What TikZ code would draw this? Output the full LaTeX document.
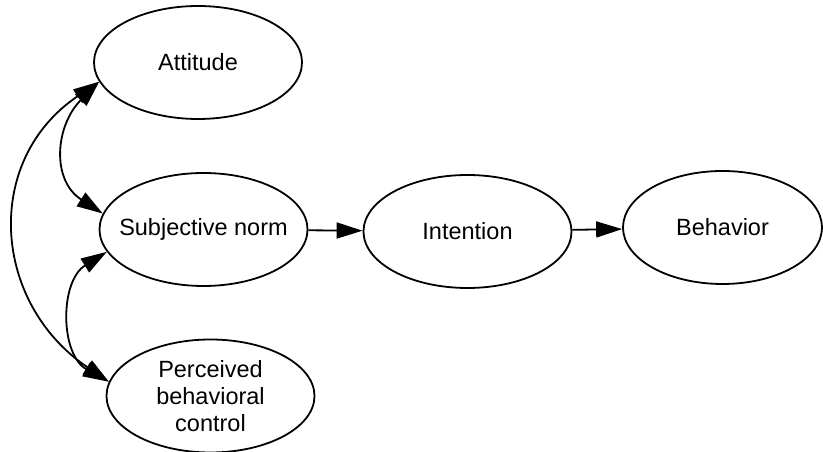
\documentclass[tikz,border=0pt]{standalone}
\usepackage{fontspec}
\setmainfont{Liberation Sans}
\usetikzlibrary{arrows.meta,shapes.geometric}

\begin{document}
\begin{tikzpicture}[x=1pt, y=1pt,
    construct/.style={ellipse, draw, line width=1.8pt, minimum width=208pt, minimum height=113pt,
        inner sep=-20pt, align=center, font=\fontsize{23.5}{27}\selectfont},
    effect/.style={line width=1.8pt, -{Triangle[length=26pt,width=16pt]}},
    covary/.style={line width=1.8pt, {Triangle[length=26pt,width=16pt]}-{Triangle[length=26pt,width=16pt]}}
]
    \useasboundingbox (0,0) rectangle (823,452);

    % Constructs
    \node[construct] (att) at (198,389.5) {Attitude};
    \node[construct] (sn) at (203.5,222.5) {Subjective norm};
    \node[construct] (pbc) at (210.5,56) {Perceived\\behavioral\\control};
    \node[construct] (int) at (467.5,220.5) {Intention};
    \node[construct, minimum width=199pt] (beh) at (722.5,224.5) {Behavior};

    % Paths
    \draw[effect] (sn) -- (int);
    \draw[effect] (int) -- (beh);

    % Correlations between the predictors
    \draw[covary] (att.191.8) to[out=225, in=147, looseness=1.2] (sn.171.8);
    \draw[covary] (sn.193.7) to[out=212, in=151, looseness=1.1] (pbc.172.5);
    \draw[covary] (att.191.8) to[out=214, in=146, looseness=1.2] (pbc.172.5);
\end{tikzpicture}
\end{document}
